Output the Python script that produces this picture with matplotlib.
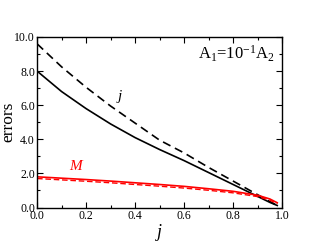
import numpy as np
import matplotlib
matplotlib.use("Agg")
import matplotlib.pyplot as plt

plt.rcParams['font.family'] = ['Liberation Serif', 'DejaVu Serif']
plt.rcParams['mathtext.fontset'] = 'custom'
plt.rcParams['mathtext.rm'] = 'Liberation Serif'
plt.rcParams['mathtext.it'] = 'Liberation Serif:italic'

# data
j_vals = [0.0, 0.1, 0.2, 0.3, 0.4, 0.5, 0.6, 0.7, 0.8, 0.9, 0.95, 0.98]
err_j_solid = [8.0, 6.8, 5.8, 4.9, 4.1, 3.4, 2.75, 2.05, 1.35, 0.65, 0.3, 0.12]
err_j_dashed = [9.6, 8.25, 7.05, 5.95, 4.95, 3.95, 3.2, 2.35, 1.55, 0.75, 0.35, 0.12]
err_M_solid = [1.8, 1.72, 1.64, 1.55, 1.45, 1.35, 1.24, 1.1, 0.95, 0.72, 0.5, 0.28]
err_M_dashed = [1.7, 1.62, 1.54, 1.45, 1.35, 1.25, 1.14, 1.01, 0.86, 0.64, 0.43, 0.22]

fig = plt.figure(figsize=(3.17, 2.45), dpi=100)
ax = fig.add_axes([0.117, 0.153, 0.773, 0.696])

ax.plot(j_vals, err_j_solid, color='black', lw=1.2)
ax.plot(j_vals, err_j_dashed, color='black', lw=1.2, ls=(0, (5, 3)))
ax.plot(j_vals, err_M_solid, color='red', lw=1.2)
ax.plot(j_vals, err_M_dashed, color='red', lw=1.0, ls=(0, (4, 2)))

ax.set_xlim(0, 1.0)
ax.set_ylim(0, 10.0)
ax.set_xticks(np.arange(0, 1.01, 0.2))
ax.set_xticks(np.arange(0, 1.01, 0.1), minor=True)
ax.set_yticks(np.arange(0, 10.1, 2.0))
ax.set_yticks(np.arange(0, 10.1, 1.0), minor=True)
ax.set_xticklabels(['0.0', '0.2', '0.4', '0.6', '0.8', '1.0'])
ax.set_yticklabels(['0.0', '2.0', '4.0', '6.0', '8.0', '10.0'])
ax.tick_params(which='both', direction='in', top=True, right=True, labelsize=8.5, pad=1.5, width=0.8)
ax.tick_params(which='major', length=4)
ax.tick_params(which='minor', length=2)
for s in ax.spines.values():
    s.set_linewidth(1.0)

ax.set_xlabel('$j$', fontsize=13, labelpad=0)
ax.set_ylabel('errors', fontsize=12.5)
ax.yaxis.set_label_coords(-0.085, 0.5)

ax.text(0.32, 6.3, '$j$', fontsize=11, color='black')
ax.text(0.13, 2.2, '$M$', fontsize=11, color='red')
ax.text(0.97, 8.7, 'A$_1$=10$^{-1}$A$_2$', fontsize=12, ha='right', color='black')

fig.savefig('out.png', dpi=100)
